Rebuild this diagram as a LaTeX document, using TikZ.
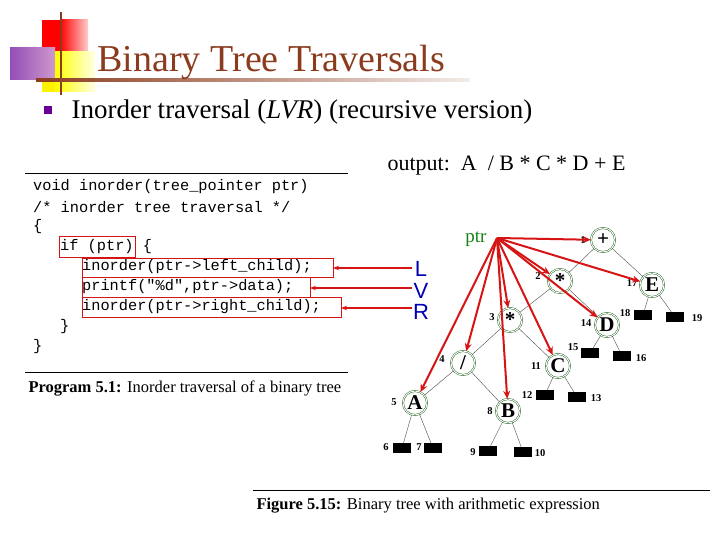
\documentclass[tikz,border=0pt]{standalone}
\usepackage{fontspec}
\setmainfont{Liberation Serif}
\setmonofont{Liberation Mono}
\newfontfamily\lsans{Liberation Sans}
\usetikzlibrary{arrows.meta}
\definecolor{brn}{RGB}{140,60,30}
\definecolor{arr}{RGB}{215,20,20}
\definecolor{grn}{RGB}{20,130,20}
\begin{document}
\begin{tikzpicture}[x=1pt,y=-1pt,
 tn/.style={circle,double=white,draw=black!70!green,double distance=1pt,thin,minimum size=24pt,inner sep=0pt,font=\fontsize{21}{21}\selectfont\bfseries},
 lf/.style={fill=black,minimum width=18pt,minimum height=10pt,inner sep=0pt},
 num/.style={font=\fontsize{10.5}{10.5}\selectfont\bfseries,inner sep=0pt},
 ed/.style={black!70,thin},
 pa/.style={arr,line width=2pt,-{Stealth[length=8pt,width=7pt]}},
 cl/.style={anchor=west,inner sep=0pt,font=\fontsize{15.3}{15.3}\ttfamily},
 rb/.style={draw=arr,thick}]
\useasboundingbox (0,0) rectangle (720,540);
% decoration
\fill[red] (42,20) rectangle (88,52);
\shade[left color=red,right color=red!20] (60,20) rectangle (88,52);
\shade[left color=violet!80!blue!70,right color=violet!40] (10,48) rectangle (55,80);
\shade[left color=yellow,right color=yellow!10] (55,52) rectangle (95,92);
\fill[yellow] (42,80) rectangle (55,92);
\draw[brn,line width=2pt] (61,12) -- (61,95);
\shade[left color=brn,right color=brn!10] (36,79) rectangle (470,82);
\node[brn,font=\fontsize{38}{38}\selectfont,anchor=base west] (title) at (94,72) {Binary Tree Traversals};
\fill[violet!80!blue] (44,106) rectangle (52,114) node[coordinate] (bul) {};
\node[anchor=base west,font=\fontsize{27}{27}\selectfont] (sub) at (68,119) {Inorder traversal (\textit{LVR}) (recursive version)};
\node[anchor=base west,font=\fontsize{22}{22}\selectfont] (out) at (384,171) {output:\ \ A \ / B * C * D + E};
% program
\draw[thick] (25,173) -- (348,173);
\draw[thick] (25,372) -- (348,372);
\node[cl] (c1) at (33,187) {void inorder(tree\_pointer ptr)};
\node[cl] (c2) at (33,207) {/* inorder tree traversal */};
\node[cl] (c3) at (33,227) {\{};
\node[cl] (c4) at (60,247) {if (ptr) \{};
\node[cl] (c5) at (82,267) {inorder(ptr->left\_child);};
\node[cl] (c6) at (82,287) {printf("\%d",ptr->data);};
\node[cl] (c7) at (82,307) {inorder(ptr->right\_child);};
\node[cl] (c8) at (60,327) {\}};
\node[cl] (c9) at (33,347) {\}};
\node[anchor=base west,font=\fontsize{16.5}{16.5}\selectfont] (cap1) at (25,392) {\textbf{Program 5.1:} Inorder traversal of a binary tree};
\draw[rb] (59,236) rectangle (135,257);
\draw[rb] (82,258) rectangle (333,277);
\draw[rb] (82,277) rectangle (310,297);
\draw[rb] (82,297) rectangle (341,317);
\coordinate (e1) at (333,268); \coordinate (e2) at (310,288); \coordinate (e3) at (341,308);
\coordinate (s1) at (412,268); \coordinate (s2) at (412,288); \coordinate (s3) at (412,308);
\draw[arr,line width=1.2pt,-{Stealth[length=6pt]}] (s1) -- (e1);
\draw[arr,line width=1.2pt,-{Stealth[length=6pt]}] (s2) -- (e2);
\draw[arr,line width=1.2pt,-{Stealth[length=6pt]}] (s3) -- (e3);
\node[blue!70!black,font=\fontsize{22}{22}\lsans] (L) at (421,269) {L};
\node[blue!70!black,font=\fontsize{22}{22}\lsans] (V) at (421,291) {V};
\node[blue!70!black,font=\fontsize{22}{22}\lsans] (R) at (421,312) {R};
% tree
\node[tn] (n1) at (603,240) {+};
\node[tn] (n2) at (560,281) {*};
\node[tn] (n17) at (652,285) {E};
\node[tn] (n3) at (510,320) {*};
\node[tn] (n14) at (607,325) {D};
\node[tn] (n4) at (463,363) {/};
\node[tn] (n11) at (558,366) {C};
\node[tn] (n5) at (415,403) {A};
\node[tn] (n8) at (508,411) {B};
\node[lf] (n18) at (643,315) {}; \node[lf] (n19) at (675,317) {};
\node[lf] (n15) at (590,353) {}; \node[lf] (n16) at (622,356) {};
\node[lf] (n12) at (545,395) {}; \node[lf] (n13) at (577,397) {};
\node[lf] (n6) at (402,448) {}; \node[lf] (n7) at (433,448) {};
\node[lf] (n9) at (488,451) {}; \node[lf] (n10) at (523,452) {};
\foreach \a/\b in {n1/n2,n1/n17,n2/n3,n2/n14,n17/n18,n17/n19,n3/n4,n3/n11,n14/n15,n14/n16,n4/n5,n4/n8,n11/n12,n11/n13,n5/n6,n5/n7,n8/n9,n8/n10}
  \draw[ed] (\a) -- (\b);
\foreach \n/\x/\y/\t in {l1/583/240/1,l2/538/276/2,l17/632/283/17,l3/492/317/3,l14/586/323/14,l4/442/359/4,l11/536/366/11,l5/394/402/5,l8/490/411/8,l18/625/313/18,l19/697/318/19,l15/573/347/15,l16/641/358/16,l12/527/395/12,l13/596/398/13,l6/386/447/6,l7/419/447/7,l9/473/452/9,l10/540/453/10}
  \node[num] (\n) at (\x,\y) {\t};
\node[grn,font=\fontsize{19}{19}\selectfont] (ptr) at (476,239) {ptr};
\coordinate (p) at (497,238);
\draw[pa] (p) -- (n1);
\draw[pa] (p) -- (n17);
\draw[pa] (p) -- (n2);
\draw[pa] (p) -- (n14);
\draw[pa] (p) -- (n3);
\draw[pa] (p) -- (n4);
\draw[pa] (p) -- (n11);
\draw[pa] (p) -- (n5);
\draw[pa] (p) -- (n8);
\draw[thick] (253,490) -- (710,490);
\node[anchor=base west,font=\fontsize{16.5}{16.5}\selectfont] (cap2) at (253,509) {\textbf{Figure 5.15:} Binary tree with arithmetic expression};
\end{tikzpicture}
\end{document}
